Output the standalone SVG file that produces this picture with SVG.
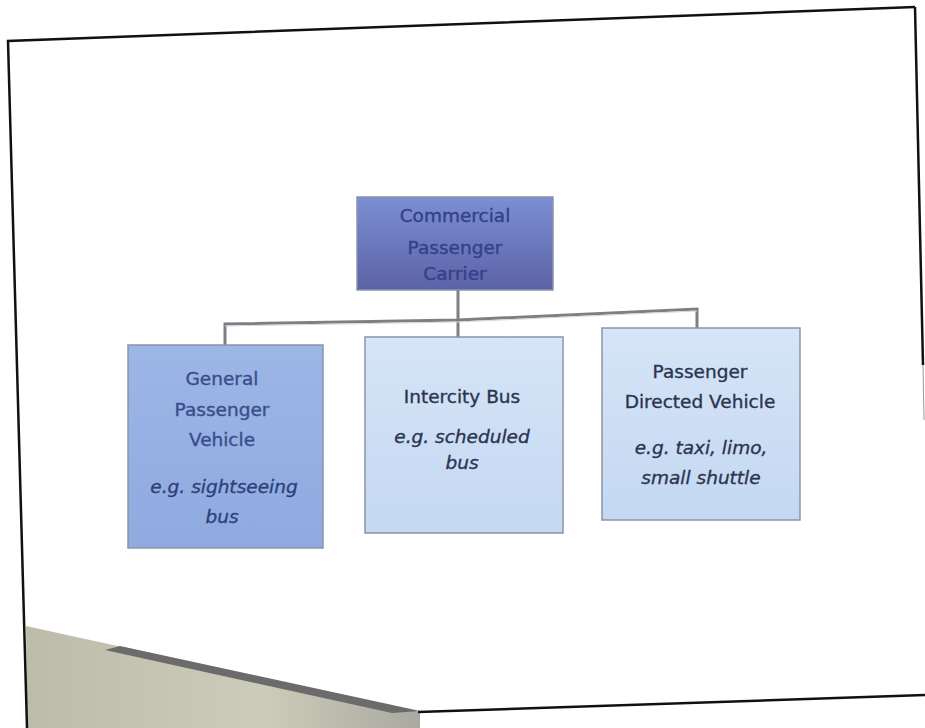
<svg xmlns="http://www.w3.org/2000/svg" width="925" height="728" viewBox="0 0 925 728">
<defs>
<linearGradient id="gTop" x1="0" y1="0" x2="0" y2="1">
<stop offset="0" stop-color="#7b8fd2"/>
<stop offset="1" stop-color="#5c62a6"/>
</linearGradient>
<linearGradient id="gLeft" x1="0" y1="0" x2="0" y2="1">
<stop offset="0" stop-color="#9cb6e6"/>
<stop offset="1" stop-color="#8eaadf"/>
</linearGradient>
<linearGradient id="gLight" x1="0" y1="0" x2="0" y2="1">
<stop offset="0" stop-color="#d6e5f7"/>
<stop offset="1" stop-color="#c4d8f2"/>
</linearGradient>
<linearGradient id="gWedge" x1="0" y1="0" x2="1" y2="0">
<stop offset="0" stop-color="#bdbcab"/>
<stop offset="0.6" stop-color="#cdccba"/>
<stop offset="1" stop-color="#a9a9a0"/>
</linearGradient>
<style>
.t{font-family:"DejaVu Sans","Liberation Sans",sans-serif;font-size:18.5px;text-anchor:middle;stroke-width:0.35;}
.i{font-style:italic;}
.box{stroke:#8a94a8;stroke-width:1.5;}
.conn{fill:none;stroke:#7d7f85;stroke-width:3;}
.conn2{fill:none;stroke:#d8d8d8;stroke-width:1;}
.frame{fill:none;stroke:#111;stroke-width:2.5;}
</style>
</defs>
<rect width="925" height="728" fill="#ffffff"/>
<g id="slide">
<polygon points="26,626 420,712 420,728 27,728" fill="url(#gWedge)"/>
<polygon points="120,646 420,711 392,713 105,650" fill="#6b6b6b"/>
<polyline class="frame" points="915,7 8,41 27,728"/>
<line class="frame" x1="915" y1="7" x2="923" y2="365"/>
<line x1="923" y1="365" x2="924" y2="420" stroke="#999" stroke-width="1"/>
<line class="frame" x1="418" y1="712" x2="925" y2="695"/>
</g>
<g id="connectors">
<polyline class="conn" points="225,346 225,324 458,320 697,309 697,330"/>
<line class="conn" x1="458" y1="290" x2="458" y2="338"/>
<polyline class="conn2" points="225,326 458,322 697,311"/>
</g>
<g id="n-top">
<rect class="box" x="357" y="197" width="196" height="93" fill="url(#gTop)"/>
<text class="t" x="455" y="222" fill="#34408a" stroke="#34408a">Commercial</text>
<text class="t" x="455" y="254" fill="#34408a" stroke="#34408a">Passenger</text>
<text class="t" x="455" y="280" fill="#34408a" stroke="#34408a">Carrier</text>
</g>
<g id="n-general">
<rect class="box" x="128" y="345" width="195" height="203" fill="url(#gLeft)"/>
<text class="t" x="222" y="385" fill="#3a4d8a" stroke="#3a4d8a">General</text>
<text class="t" x="222" y="416" fill="#3a4d8a" stroke="#3a4d8a">Passenger</text>
<text class="t" x="222" y="446" fill="#3a4d8a" stroke="#3a4d8a">Vehicle</text>
<text class="t i" x="224" y="493" fill="#2f3f7a" stroke="#2f3f7a">e.g. sightseeing</text>
<text class="t i" x="222" y="523" fill="#2f3f7a" stroke="#2f3f7a">bus</text>
</g>
<g id="n-intercity">
<rect class="box" x="365" y="337" width="198" height="196" fill="url(#gLight)"/>
<text class="t" x="462" y="403" fill="#2b3450" stroke="#2b3450">Intercity Bus</text>
<text class="t i" x="462" y="443" fill="#2b3450" stroke="#2b3450">e.g. scheduled</text>
<text class="t i" x="462" y="469" fill="#2b3450" stroke="#2b3450">bus</text>
</g>
<g id="n-directed">
<rect class="box" x="602" y="328" width="198" height="192" fill="url(#gLight)"/>
<text class="t" x="700" y="378" fill="#2b3450" stroke="#2b3450">Passenger</text>
<text class="t" x="700" y="408" fill="#2b3450" stroke="#2b3450">Directed Vehicle</text>
<text class="t i" x="701" y="454" fill="#2b3450" stroke="#2b3450">e.g. taxi, limo,</text>
<text class="t i" x="701" y="484" fill="#2b3450" stroke="#2b3450">small shuttle</text>
</g>
</svg>
